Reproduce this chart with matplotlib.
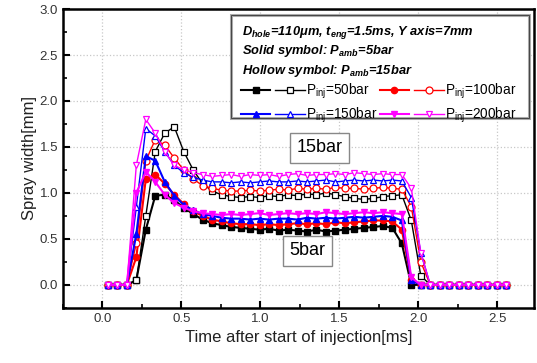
import numpy as np
import matplotlib
matplotlib.use("Agg")
import matplotlib.pyplot as plt
from matplotlib.patches import Rectangle
from matplotlib.legend_handler import HandlerTuple

plt.rcParams['font.family'] = ['Liberation Sans', 'DejaVu Sans']
plt.rcParams['mathtext.fontset'] = 'custom'
plt.rcParams['mathtext.rm'] = 'Liberation Sans'
plt.rcParams['mathtext.it'] = 'Liberation Sans:italic'
plt.rcParams['mathtext.bf'] = 'Liberation Sans:bold:italic'

# time after start of injection [ms]
t = [0.035, 0.095, 0.155, 0.215, 0.275, 0.335, 0.395, 0.455, 0.515, 0.575,
     0.635, 0.695, 0.755, 0.815, 0.875, 0.935, 0.995, 1.055, 1.115, 1.175,
     1.235, 1.295, 1.355, 1.415, 1.475, 1.535, 1.595, 1.655, 1.715, 1.775,
     1.835, 1.895, 1.955, 2.015, 2.075, 2.135, 2.195, 2.255, 2.315, 2.375,
     2.435, 2.495, 2.555]

z8 = [0, 0, 0, 0, 0, 0, 0, 0]

# spray width [mm], Pamb = 5bar (solid symbols)
w50_5 = [0, 0, 0, 0.05, 0.60, 0.97, 0.98, 0.92, 0.84, 0.77,
         0.71, 0.67, 0.65, 0.63, 0.62, 0.61, 0.60, 0.61, 0.59, 0.60,
         0.59, 0.58, 0.60, 0.58, 0.59, 0.60, 0.61, 0.62, 0.63, 0.64,
         0.62, 0.45, 0.0, 0.0, 0.0] + z8
w100_5 = [0, 0, 0, 0.30, 1.15, 1.20, 1.10, 0.98, 0.88, 0.80,
          0.75, 0.71, 0.69, 0.67, 0.66, 0.66, 0.65, 0.66, 0.65, 0.66,
          0.67, 0.66, 0.67, 0.66, 0.68, 0.67, 0.68, 0.69, 0.70, 0.70,
          0.69, 0.60, 0.05, 0.0, 0.0] + z8
w150_5 = [0, 0, 0, 0.55, 1.40, 1.35, 1.12, 0.97, 0.87, 0.81,
          0.77, 0.75, 0.73, 0.72, 0.72, 0.71, 0.72, 0.71, 0.72, 0.72,
          0.71, 0.73, 0.72, 0.73, 0.72, 0.73, 0.74, 0.73, 0.74, 0.75,
          0.74, 0.70, 0.05, 0.0, 0.0] + z8
w200_5 = [0, 0, 0, 1.00, 1.23, 1.12, 0.98, 0.89, 0.84, 0.80,
          0.78, 0.77, 0.76, 0.77, 0.76, 0.77, 0.78, 0.76, 0.77, 0.78,
          0.77, 0.78, 0.77, 0.79, 0.78, 0.77, 0.78, 0.79, 0.78, 0.79,
          0.78, 0.77, 0.08, 0.0, 0.0] + z8

# spray width [mm], Pamb = 15bar (hollow symbols)
w50_15 = [0, 0, 0, 0.05, 0.75, 1.45, 1.65, 1.72, 1.45, 1.25,
          1.10, 1.02, 0.98, 0.96, 0.95, 0.96, 0.95, 0.97, 0.96, 0.98,
          0.97, 0.99, 0.98, 1.00, 0.98, 0.96, 0.94, 0.93, 0.94, 0.96,
          0.97, 0.98, 0.70, 0.10, 0.0] + z8
w100_15 = [0, 0, 0, 0.45, 1.35, 1.58, 1.52, 1.38, 1.25, 1.15,
           1.08, 1.05, 1.03, 1.02, 1.02, 1.03, 1.02, 1.03, 1.04, 1.03,
           1.05, 1.04, 1.05, 1.04, 1.06, 1.05, 1.05, 1.04, 1.05, 1.06,
           1.05, 1.04, 0.85, 0.25, 0.0] + z8
w150_15 = [0, 0, 0, 0.85, 1.70, 1.62, 1.45, 1.30, 1.22, 1.17,
           1.14, 1.12, 1.12, 1.11, 1.12, 1.11, 1.12, 1.13, 1.12, 1.12,
           1.13, 1.12, 1.13, 1.14, 1.12, 1.13, 1.14, 1.13, 1.14, 1.13,
           1.14, 1.13, 0.95, 0.35, 0.0] + z8
w200_15 = [0, 0, 0, 1.30, 1.80, 1.65, 1.45, 1.30, 1.25, 1.22,
           1.20, 1.18, 1.19, 1.20, 1.18, 1.20, 1.19, 1.20, 1.18, 1.20,
           1.21, 1.19, 1.20, 1.20, 1.21, 1.20, 1.22, 1.21, 1.20, 1.21,
           1.20, 1.20, 1.05, 0.35, 0.0] + z8

series = [
    ("50bar", 'black', 's', w50_5, w50_15),
    ("100bar", 'red', 'o', w100_5, w100_15),
    ("150bar", 'blue', '^', w150_5, w150_15),
    ("200bar", 'magenta', 'v', w200_5, w200_15),
]

fig = plt.figure(figsize=(5.37, 3.63), dpi=100)
ax = fig.add_axes([0.117, 0.152, 0.877, 0.823])

handles = {}
for name, col, mk, solid, hollow in series:
    h1, = ax.plot(t, solid, color=col, marker=mk, ms=4.5, lw=1.5,
                  mfc=col, mec=col)
    h2, = ax.plot(t, hollow, color=col, marker=mk, ms=5, lw=1.0,
                  mfc='white', mec=col, mew=0.9)
    handles[name] = (h1, h2)

ax.set_xlim(-0.25, 2.73)
ax.set_ylim(-0.25, 3.0)
ax.set_xticks([0.0, 0.5, 1.0, 1.5, 2.0, 2.5])
ax.set_yticks([0.0, 0.5, 1.0, 1.5, 2.0, 2.5, 3.0])
ax.set_xticks(np.arange(-0.25, 2.75, 0.25), minor=True)
ax.set_yticks(np.arange(-0.25, 3.0, 0.25), minor=True)
ax.xaxis.set_major_formatter(plt.FormatStrFormatter('%.1f'))
ax.yaxis.set_major_formatter(plt.FormatStrFormatter('%.1f'))
ax.tick_params(which='major', direction='in', length=5, width=1.5,
               labelsize=9.5, labelcolor='#333333')
ax.tick_params(which='minor', direction='in', length=3, width=1.2)
for s in ax.spines.values():
    s.set_linewidth(1.8)
ax.grid(True, which='major', linestyle=':', color='#c8c8c8', linewidth=0.9)
ax.set_axisbelow(True)

ax.set_xlabel("Time after start of injection[ms]", fontsize=12, color='#222222')
ax.set_ylabel("Spray width[mm]", fontsize=12, color='#222222', labelpad=2)

# annotation boxes
box = dict(boxstyle='square,pad=0.35', fc='white', ec='#888888', lw=1.0)
ax.text(1.375, 1.49, "15bar", fontsize=13, ha='center', va='center', bbox=box)
ax.text(1.30, 0.37, "5bar", fontsize=13, ha='center', va='center', bbox=box)

# legend frame with header lines
ax.add_patch(Rectangle((0.357, 0.635), 0.633, 0.345, transform=ax.transAxes,
                       fc='white', ec='#aaaaaa', lw=2.2, zorder=5))
ax.add_patch(Rectangle((0.357, 0.635), 0.633, 0.345, transform=ax.transAxes,
                       fc='none', ec='#444444', lw=0.7, zorder=5))
hdr = [r"$\mathbf{D_{hole}}$=110μm, $\mathbf{t_{eng}}$=1.5ms, Y axis=7mm",
       r"Solid symbol: $\mathbf{P_{amb}}$=5bar",
       r"Hollow symbol: $\mathbf{P_{amb}}$=15bar"]
for k, s in enumerate(hdr):
    ax.text(0.38, 0.923 - k * 0.065, s, transform=ax.transAxes, fontsize=9.3,
            fontweight='bold', fontstyle='italic', ha='left', va='center',
            zorder=6)

order = ["50bar", "150bar", "100bar", "200bar"]
leg = ax.legend([handles[n] for n in order],
                [r"P$_{\rm inj}$=" + n for n in order],
                handler_map={tuple: HandlerTuple(ndivide=None, pad=0.35)},
                ncol=2, loc='upper left', bbox_to_anchor=(0.378, 0.758),
                frameon=False, fontsize=9.8, handlelength=4.7,
                handletextpad=0.1, columnspacing=0.15, labelspacing=0.35,
                borderpad=0.0, borderaxespad=0.0)
leg.set_zorder(7)

fig.savefig("out.png", dpi=100)
